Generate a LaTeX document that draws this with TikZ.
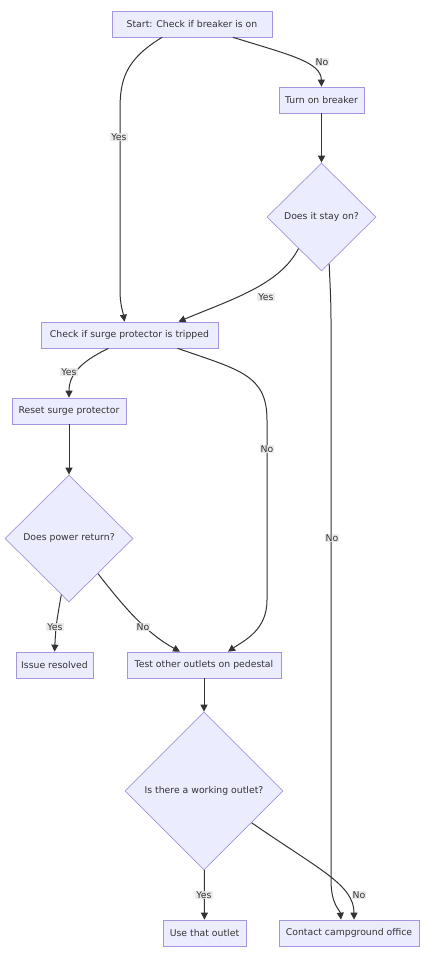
\documentclass[tikz,border=0pt]{standalone}
\usepackage{fontspec}
\setmainfont{DejaVu Sans}
\usetikzlibrary{shapes.geometric,arrows.meta,calc}
\definecolor{nodefill}{HTML}{ECECFF}
\definecolor{nodeline}{HTML}{A594DE}
\definecolor{edgecol}{HTML}{333333}
\definecolor{lblfill}{HTML}{E8E8E8}
\begin{document}
\begin{tikzpicture}[x=1pt,y=-1pt,
  every node/.style={font=\fontsize{9.3pt}{11pt}\selectfont, text=edgecol},
  box/.style={draw=nodeline, fill=nodefill, line width=0.7pt, rectangle, minimum height=26pt, inner sep=0pt},
  dia/.style={draw=nodeline, fill=nodefill, line width=0.7pt, diamond, aspect=1, inner sep=0pt},
  edge/.style={draw=edgecol, line width=1pt, -{Triangle[length=7pt,width=7pt]}},
  lbl/.style={fill=lblfill, fill opacity=0.85, text opacity=1, inner sep=1pt}
]
\useasboundingbox (0,0) rectangle (428,955);
\fill[white] (0,0) rectangle (428,955);

\node[box, minimum width=160pt] (start) at (192,24) {Start: Check if breaker is on};
\node[box, minimum width=85pt] (turn) at (321.5,100) {Turn on breaker};
\node[dia, minimum width=109pt, minimum height=108pt] (stay) at (321.5,217) {Does it stay on?};
\node[box, minimum width=177pt] (check) at (129.5,335) {Check if surge protector is tripped};
\node[box, minimum width=114pt] (reset) at (69,411) {Reset surge protector};
\node[dia, minimum width=128pt, minimum height=127pt] (power) at (69,538.5) {Does power return?};
\node[box, minimum width=77pt] (issue) at (54.5,665) {Issue resolved};
\node[box, minimum width=154pt] (test) at (204,665) {Test other outlets on pedestal};
\node[dia, minimum width=158pt, minimum height=158pt] (working) at (204,791) {Is there a working outlet?};
\node[box, minimum width=83pt] (use) at (204.5,933) {Use that outlet};
\node[box, minimum width=140pt] (contact) at (349,933) {Contact campground office};

% edges
\draw[edge] ([xshift=-30pt]start.south) .. controls (125,60) and (120,80) .. (120,110) -- (120,290) .. controls (120,305) and (123,312) .. ([xshift=-5pt]check.north);
\draw[edge] ([xshift=41pt]start.south) .. controls (290,55) and (321,62) .. (turn.north);
\draw[edge] (turn) -- (stay);
\draw[edge] ($(stay.south)!0.42!(stay.west)$) .. controls (280,285) and (230,300) .. ([xshift=49pt]check.north);
\draw[edge] ($(stay.south)!0.14!(stay.east)$) .. controls (330,285) and (331,300) .. (331,320) -- (331,880) .. controls (331,905) and (340,910) .. ([xshift=-8pt]contact.north);
\draw[edge] ([xshift=-21pt]check.south) .. controls (80,362) and (69,375) .. (reset.north);
\draw[edge] ([xshift=48pt]check.south) .. controls (240,370) and (267,375) .. (267,420) -- (267,600) .. controls (267,630) and (245,640) .. ([xshift=24pt]test.north);
\draw[edge] (reset) -- (power);
\draw[edge] ($(power.south)!0.12!(power.west)$) .. controls (56,625) .. (issue.north);
\draw[edge] ($(power.south)!0.45!(power.east)$) .. controls (130,615) and (150,635) .. ([xshift=-24pt]test.north);
\draw[edge] (test) -- (working);
\draw[edge] (working) -- (use);
\draw[edge] ($(working.south)!0.6!(working.east)$) .. controls (320,870) and (354,885) .. ([xshift=5pt]contact.north);

% labels
\node[lbl] (l1) at (119,137) {Yes};
\node[lbl] (l2) at (322,62) {No};
\node[lbl] (l3) at (266,297) {Yes};
\node[lbl] (l4) at (332,538) {No};
\node[lbl] (l5) at (69,372) {Yes};
\node[lbl] (l6) at (267,449) {No};
\node[lbl] (l7) at (55,627) {Yes};
\node[lbl] (l8) at (143,627) {No};
\node[lbl] (l9) at (204,895) {Yes};
\node[lbl] (l10) at (359,895) {No};
\end{tikzpicture}
\end{document}
